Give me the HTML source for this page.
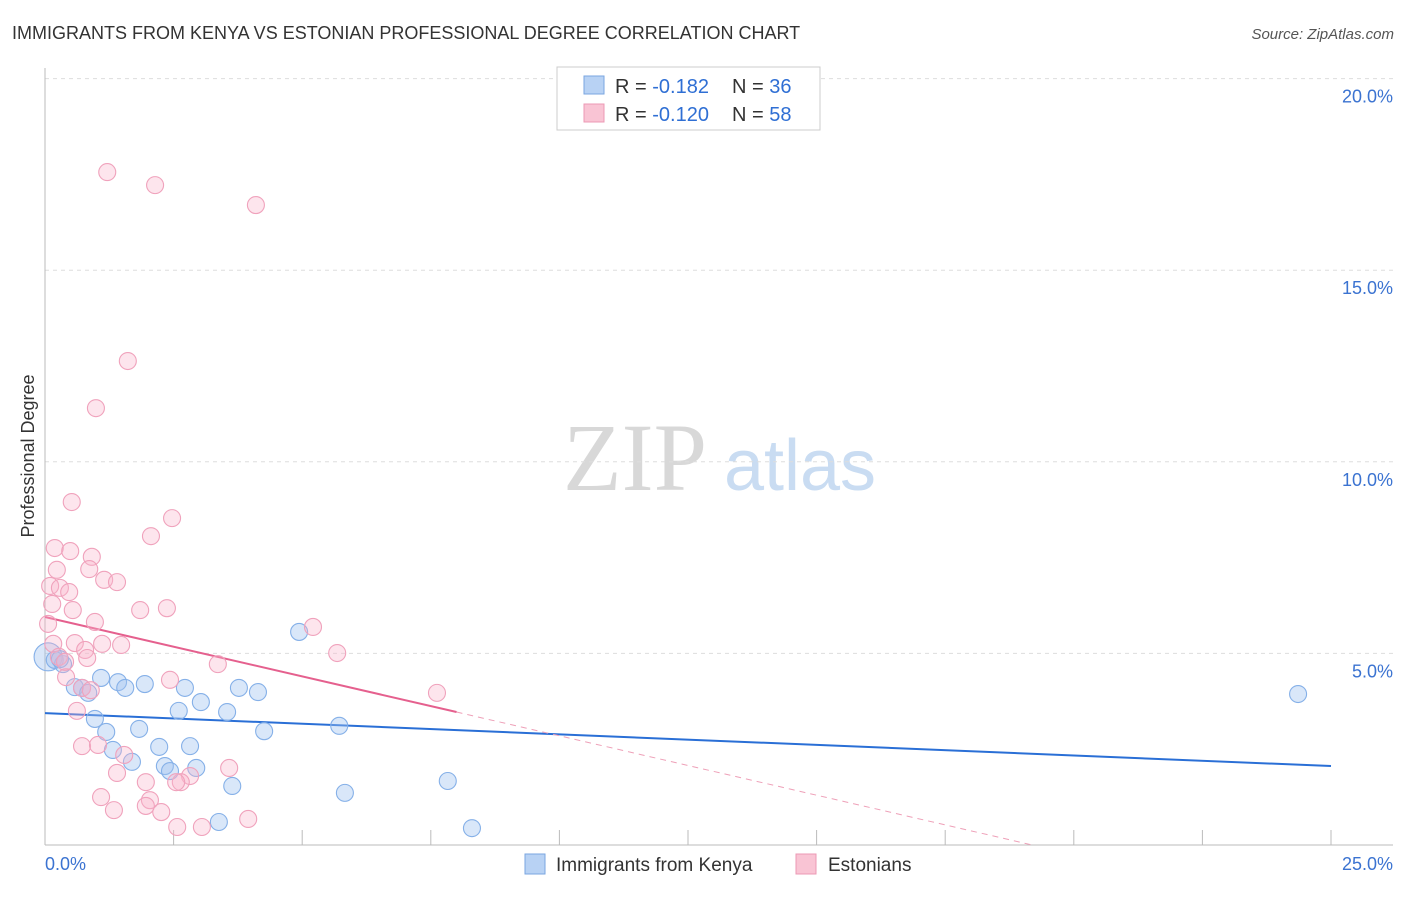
<!DOCTYPE html>
<html><head><meta charset="utf-8"><style>
body{margin:0;background:#fff;width:1406px;height:892px;overflow:hidden;font-family:"Liberation Sans",sans-serif}
</style></head><body>
<svg id="chart" width="1406" height="892" xmlns="http://www.w3.org/2000/svg">
<text x="12" y="39" font-size="18" fill="#333">IMMIGRANTS FROM KENYA VS ESTONIAN PROFESSIONAL DEGREE CORRELATION CHART</text>
<text x="1394" y="39" font-size="15" fill="#555" font-style="italic" text-anchor="end">Source: ZipAtlas.com</text>
<g>
<text x="635" y="490" font-size="96" fill="#d8d8d8" font-family="Liberation Serif,serif" text-anchor="middle">ZIP</text>
<text x="800" y="490" font-size="72" fill="#c9dcf2" text-anchor="middle">atlas</text>
</g>
<text transform="translate(34,456) rotate(-90)" font-size="18" fill="#333" text-anchor="middle">Professional Degree</text>
<g id="grid"></g><g id="trend"></g><g id="pts"></g>
<g>
<rect x="557" y="67" width="263" height="63" fill="#fff" stroke="#ccc"/>
<rect x="584" y="76" width="20" height="18" fill="#b8d2f4" stroke="#7aa6e0"/>
<rect x="584" y="104" width="20" height="18" fill="#f9c4d4" stroke="#ec99b4"/>
<text x="615" y="93" font-size="20" fill="#333">R = <tspan fill="#2f6fd4">-0.182</tspan><tspan x="732">N = </tspan><tspan fill="#2f6fd4">36</tspan></text>
<text x="615" y="121" font-size="20" fill="#333">R = <tspan fill="#2f6fd4">-0.120</tspan><tspan x="732">N = </tspan><tspan fill="#2f6fd4">58</tspan></text>
</g>
<g>
<rect x="525" y="854" width="20" height="20" fill="#b8d2f4" stroke="#7aa6e0"/>
<text x="556" y="871" font-size="19" fill="#333">Immigrants from Kenya</text>
<rect x="796" y="854" width="20" height="20" fill="#f9c4d4" stroke="#ec99b4"/>
<text x="828" y="871" font-size="19" fill="#333">Estonians</text>
</g>
</svg>
<script>
const yTicks=[5,10,15,20];
const yTickLabels=["5.0%","10.0%","15.0%","20.0%"];
const xTicks=[0,2.5,5,7.5,10,12.5,15,17.5,20,22.5,25];
const kenyaX=[0.06,0.19,0.35,0.29,0.58,0.72,0.84,0.97,1.09,1.19,1.32,1.42,1.56,1.69,1.83,1.94,2.22,2.33,2.43,2.60,2.72,2.82,2.94,3.03,3.54,3.64,3.38,3.77,4.14,4.26,4.94,5.72,5.83,7.83,8.30,24.36];
const kenyaY=[4.91,4.83,4.72,4.85,4.12,4.10,3.97,3.29,4.36,2.95,2.48,4.25,4.10,2.17,3.03,4.20,2.56,2.06,1.93,3.50,4.10,2.58,2.01,3.73,3.47,1.54,0.60,4.10,3.99,2.97,5.56,3.11,1.36,1.67,0.44,3.94];
const estX=[1.21,2.14,4.10,1.61,0.99,0.52,2.47,2.06,0.19,0.49,0.91,0.23,0.86,1.15,1.40,0.10,0.29,0.47,0.14,0.54,1.85,2.37,0.06,0.97,5.21,0.16,0.58,1.11,1.48,0.78,5.68,0.27,0.82,3.36,0.41,2.43,0.72,0.89,7.62,0.62,0.72,1.03,1.54,1.40,3.58,2.82,2.64,2.55,1.96,1.09,2.04,1.34,2.26,1.96,2.57,3.05,3.95,0.39];
const estY=[17.56,17.22,16.70,12.63,11.40,8.95,8.53,8.06,7.75,7.67,7.52,7.18,7.20,6.92,6.86,6.76,6.71,6.60,6.29,6.13,6.13,6.18,5.77,5.82,5.69,5.25,5.27,5.25,5.22,5.09,5.01,4.91,4.88,4.72,4.38,4.31,4.10,4.04,3.97,3.50,2.58,2.61,2.35,1.88,2.01,1.80,1.64,1.64,1.64,1.25,1.17,0.91,0.86,1.02,0.47,0.47,0.68,4.78];
const kenyaTrend=[3.44,-0.0552];
const estTrend=[5.95,-0.31];
const NS="http://www.w3.org/2000/svg";
const sx=v=>45+v*51.44, sy=v=>845-v*38.32;
function mk(tag,attrs,parent){const e=document.createElementNS(NS,tag);for(const k in attrs)e.setAttribute(k,attrs[k]);parent.appendChild(e);return e;}
const grid=document.getElementById('grid');
yTicks.forEach((t,i)=>{
 const l=mk('line',{x1:45,x2:1393,y1:sy(t),y2:sy(t),stroke:'#ddd','stroke-dasharray':'4,4'},grid);
 
 
 const tx=mk('text',{x:1393,y:sy(t)+24,'font-size':18,fill:'#3b73d1','text-anchor':'end'},grid);
 tx.textContent=yTickLabels[i];
 
 
});
mk('line',{x1:45,x2:45,y1:68,y2:845,stroke:'#bbb'},grid);
mk('line',{x1:45,x2:1393,y1:845,y2:845,stroke:'#bbb'},grid);
xTicks.forEach(t=>{const l=mk('line',{x1:sx(t),x2:sx(t),y1:830,y2:845,stroke:'#bbb'},grid);
 
 });
const xl0=mk('text',{x:45,y:870,'font-size':18,fill:'#3b73d1'},grid);xl0.textContent="0.0%";


const xl1=mk('text',{x:1393,y:870,'font-size':18,fill:'#3b73d1','text-anchor':'end'},grid);xl1.textContent="25.0%";


const pts=document.getElementById('pts');
kenyaX.forEach((x,i)=>{const c=mk('circle',{cx:sx(x),cy:sy(kenyaY[i]),r:i==0?14:8.5,fill:'rgba(160,195,240,0.4)',stroke:'#85b0e8','stroke-width':1.1},pts);
 
 });
estX.forEach((x,i)=>{const c=mk('circle',{cx:sx(x),cy:sy(estY[i]),r:8.5,fill:'rgba(248,180,202,0.35)',stroke:'#f0a2bc','stroke-width':1.1},pts);
 
 });
const tr=document.getElementById('trend');
const kl=mk('line',{x1:sx(0),y1:sy(kenyaTrend[0]),x2:sx(25),y2:sy(kenyaTrend[0]+25*kenyaTrend[1]),stroke:'#2a6fd6','stroke-width':2},tr);


const xEnd=8.0, xZero=-estTrend[0]/estTrend[1];
const el=mk('line',{x1:sx(0),y1:sy(estTrend[0]),x2:sx(xEnd),y2:sy(estTrend[0]+xEnd*estTrend[1]),stroke:'#e5608e','stroke-width':2},tr);


const ed=mk('line',{x1:sx(xEnd),y1:sy(estTrend[0]+xEnd*estTrend[1]),x2:sx(xZero),y2:sy(0),stroke:'#eea0b8','stroke-width':1,'stroke-dasharray':'6,5'},tr);


</script>
</body></html>
